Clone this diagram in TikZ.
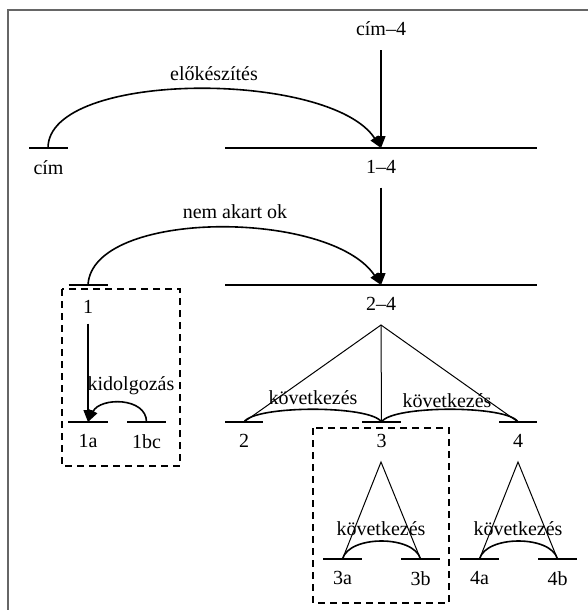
\documentclass[tikz,border=0pt]{standalone}
\usepackage{fontspec}
\setmainfont{Liberation Serif}
\usetikzlibrary{arrows.meta, positioning}
\tikzset{
    bar/.style={line width=2.4pt},
    lbl/.style={inner sep=0pt, font=\fontsize{20}{24}\selectfont},
    arr/.style={-{Triangle[length=12pt,width=9pt]}},
    stem/.style={line width=1.2pt},
    relarc/.style={line width=1.6pt},
    tree/.style={line width=1pt},
    grpbox/.style={line width=1.8pt, dash pattern=on 7pt off 5pt},
    frame/.style={line width=1.6pt, gray!80!black},
}

\begin{document}
\begin{tikzpicture}[x=1pt, y=-1pt]
    \useasboundingbox (0,0) rectangle (588,610);
    \draw[frame] (8,610) -- (8,10) -- (588,10);

    % levels: name / centre x / y / half width / text / gap to text
    \foreach \nm/\cx/\cy/\hw/\txt/\gap in {
        cim/48.5/148/19.5/cím/12, b14/381/148/156/1–4/12,
        b1/88/285/19.5/1/15, b24/381/285/156/2–4/12,
        b1a/88/422/20/1a/12, b1bc/146.5/422/19.5/1bc/12,
        b2/244/422/19/2/12, b3/381.5/422/19.5/3/12, b4/518/422/19/4/12,
        b3a/342.5/559/19.5/3a/12, b3b/420.5/559/19.5/3b/12,
        b4a/479.5/559/19.5/4a/12, b4b/557.5/559/19.5/4b/12}
    {
        \coordinate (\nm) at (\cx,\cy);
        \draw[bar] (\cx-\hw,\cy) -- (\cx+\hw,\cy);
        \node[lbl, below=\gap pt of \nm] (l\nm) {\txt};
    }

    \node[lbl] (cim4) at (381,29) {cím–4};
    \draw[stem, arr] ([yshift=-14pt]cim4.south) -- (b14);
    \draw[stem, arr] ([yshift=-14pt]lb14.south) -- (b24);
    \draw[stem, arr] ([yshift=-10pt]lb1.south) -- (b1a);

    % rhetorical relations
    \node[lbl] (prep) at (214,74) {előkészítés};
    \draw[relarc, arr] ([xshift=-0.5pt]cim) .. controls (48,70) and (330,70) .. (b14);
    \node[lbl] (unwant) at (235,212) {nem akart ok};
    \draw[relarc, arr] (b1) .. controls (92,209) and (330,209) .. (b24);
    \node[lbl] (elab) at (131,386) {kidolgozás};
    \draw[relarc, arr] (b1bc) .. controls (146.5,397) and (100,397) .. (b1a);

    % multinuclear trees
    \coordinate (top24) at (381,325);
    \draw[tree] (b2) -- (top24) -- (b4);
    \draw[tree] (top24) -- (b3);
    \node[lbl] (seq2) at (313,398) {következés};
    \draw[relarc] (b2) .. controls (255,405) and (371,405) .. (b3);
    \node[lbl] (seq3) at (447,401) {következés};
    \draw[relarc] (b3) .. controls (392,405) and (508,405) .. (b4);

    \coordinate (top3) at (381,462);
    \draw[tree] (b3a) -- (top3) -- (b3b);
    \node[lbl] (seq3ab) at (381,529) {következés};
    \draw[relarc] (b3a) .. controls (349,535) and (414,535) .. (b3b);

    \coordinate (top4) at (518,462);
    \draw[tree] (b4a) -- (top4) -- (b4b);
    \node[lbl] (seq4ab) at (518,529) {következés};
    \draw[relarc] (b4a) .. controls (486,535) and (551,535) .. (b4b);

    % groups
    \draw[grpbox] (62,289) rectangle (180,466);
    \draw[grpbox] (313,428) rectangle (449,603);
\end{tikzpicture}
\end{document}
